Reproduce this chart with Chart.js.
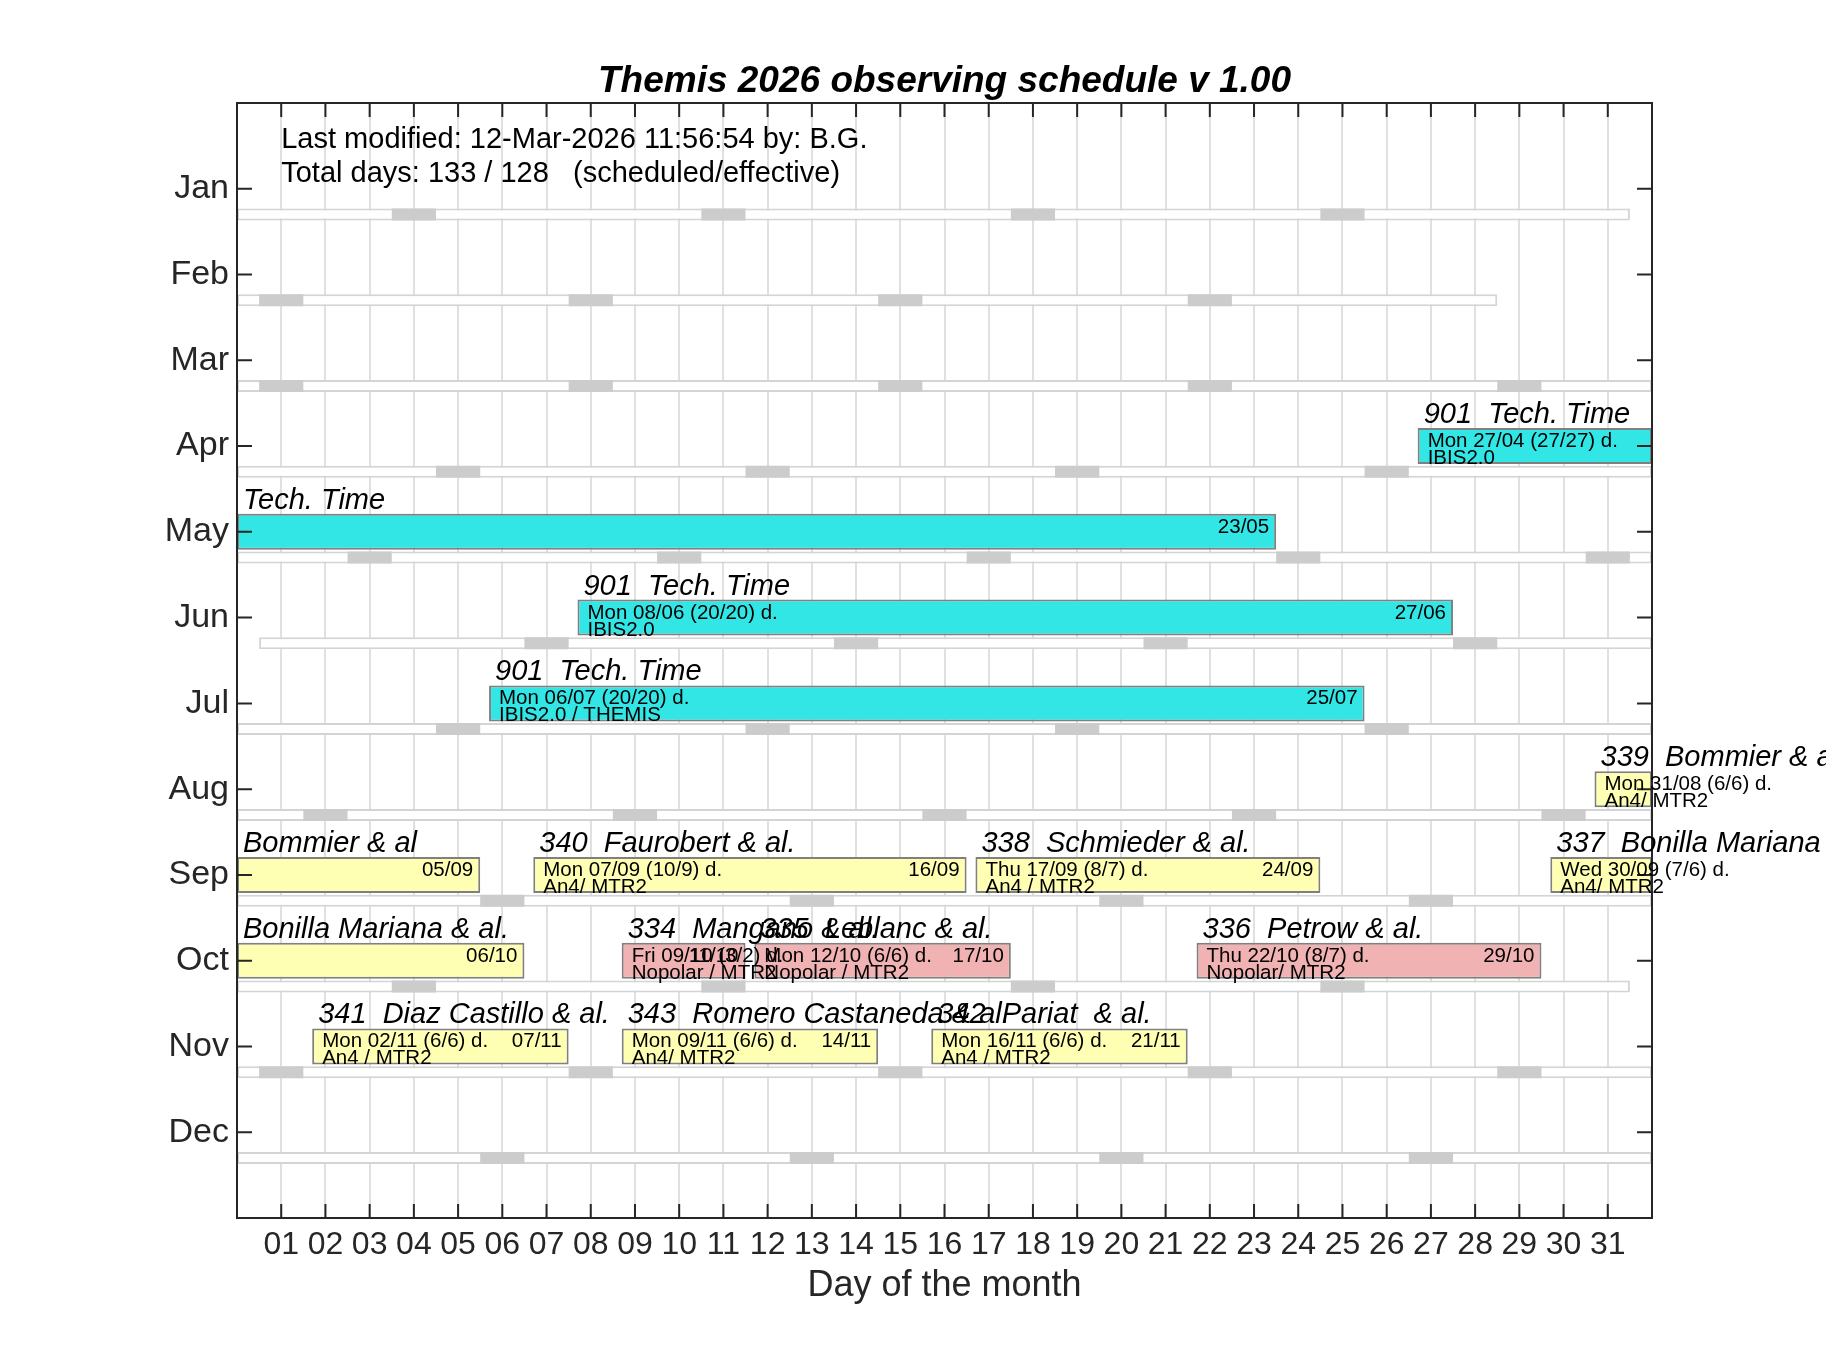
<!DOCTYPE html>
<html>
<head>
  <title>Themis 2026 observing schedule</title>
  <script src="https://cdn.jsdelivr.net/npm/chart.js"></script>
  <style>body { margin: 0; background: #fff; } canvas { display: block; }</style>
</head>
<body>
  <canvas id="plan" width="1826" height="1370"></canvas>
  <script>
    const monthLabels = ['Jan', 'Feb', 'Mar', 'Apr', 'May', 'Jun', 'Jul', 'Aug', 'Sep', 'Oct', 'Nov', 'Dec'];
    const dayLabels = ['01', '02', '03', '04', '05', '06', '07', '08', '09', '10', '11', '12', '13', '14', '15', '16',
      '17', '18', '19', '20', '21', '22', '23', '24', '25', '26', '27', '28', '29', '30', '31'];

    // calendar strip below each month row and its Sundays
    const stripFrom = [0, 0, 0, 0, 0, 0.5, 0, 0, 0, 0, 0, 0];
    const stripTo = [31.5, 28.5, 32, 32, 32, 32, 32, 32, 32, 31.5, 32, 32];
    const sundays = [
      [4, 11, 18, 25], [1, 8, 15, 22], [1, 8, 15, 22, 29], [5, 12, 19, 26],
      [3, 10, 17, 24, 31], [7, 14, 21, 28], [5, 12, 19, 26], [2, 9, 16, 23, 30],
      [6, 13, 20, 27], [4, 11, 18, 25], [1, 8, 15, 22, 29], [6, 13, 20, 27]
    ];

    // observing runs, one entry per month row (null = runs past the edge)
    const runMonth = [4, 5, 6, 7, 8, 9, 9, 9, 9, 10, 10, 10, 10, 11, 11, 11];
    const runFirst = [27, null, 8, 6, 31, null, 7, 17, 30, null, 9, 12, 22, 2, 9, 16];
    const runLast = [null, 23, 27, 25, null, 5, 16, 24, null, 6, 11, 17, 29, 7, 14, 21];
    const runKind = ['tech', 'tech', 'tech', 'tech', 'an4', 'an4', 'an4', 'an4', 'an4', 'an4',
      'nopolar', 'nopolar', 'nopolar', 'an4', 'an4', 'an4'];
    const runTitle = ['901  Tech. Time', 'Tech. Time', '901  Tech. Time', '901  Tech. Time',
      '339  Bommier & al', 'Bommier & al', '340  Faurobert & al.', '338  Schmieder & al.',
      '337  Bonilla Mariana & al.', 'Bonilla Mariana & al.', '334  Mangano & al.', '335  Leblanc & al.',
      '336  Petrow & al.', '341  Diaz Castillo & al.', '343  Romero Castaneda & al.', '342  Pariat  & al.'];
    const runDates = ['Mon 27/04 (27/27) d.', '', 'Mon 08/06 (20/20) d.', 'Mon 06/07 (20/20) d.',
      'Mon 31/08 (6/6) d.', '', 'Mon 07/09 (10/9) d.', 'Thu 17/09 (8/7) d.', 'Wed 30/09 (7/6) d.', '',
      'Fri 09/10 (3/2) d.', 'Mon 12/10 (6/6) d.', 'Thu 22/10 (8/7) d.', 'Mon 02/11 (6/6) d.',
      'Mon 09/11 (6/6) d.', 'Mon 16/11 (6/6) d.'];
    const runSetup = ['IBIS2.0', '', 'IBIS2.0', 'IBIS2.0 / THEMIS', 'An4/ MTR2', '', 'An4/ MTR2',
      'An4 / MTR2', 'An4/ MTR2', '', 'Nopolar / MTR2', 'Nopolar / MTR2', 'Nopolar/ MTR2',
      'An4 / MTR2', 'An4/ MTR2', 'An4 / MTR2'];
    const runEnd = ['', '23/05', '27/06', '25/07', '', '05/09', '16/09', '24/09', '', '06/10',
      '11/10', '17/10', '29/10', '07/11', '14/11', '21/11'];

    const noteLines = ['Last modified: 12-Mar-2026 11:56:54 by: B.G.',
      'Total days: 133 / 128   (scheduled/effective)'];

    const kindColor = { tech: 'rgb(51,230,230)', an4: 'rgb(255,255,179)', nopolar: 'rgb(240,178,178)' };
    const FONT = '"Liberation Sans", Arial, Helvetica, sans-serif';
    const DAY_MIN = 0, DAY_MAX = 32;
    const STRIP_SHIFT = 0.3;

    const runFrom = i => runFirst[i] == null ? DAY_MIN : runFirst[i] - 0.3;
    const runTo = i => runLast[i] == null ? DAY_MAX : runLast[i] + 0.5;

    const stripData = monthLabels.map((m, i) => ({ y: i + 1 + STRIP_SHIFT, x: [stripFrom[i], stripTo[i]] }));
    const sundayData = sundays.flatMap((days, i) => days.map(d => ({ y: i + 1 + STRIP_SHIFT, x: [d - 0.5, d + 0.5] })));
    const runData = runMonth.map((m, i) => ({ y: m, x: [runFrom(i), runTo(i)] }));

    const scheduleText = {
      id: 'scheduleText',
      afterDatasetsDraw(chart) {
        const { ctx, chartArea: a, scales: { x, y } } = chart;
        ctx.save();

        // box and inward ticks
        ctx.strokeStyle = '#262626';
        ctx.lineWidth = 2;
        ctx.strokeRect(a.left, a.top, a.right - a.left, a.bottom - a.top);
        ctx.beginPath();
        x.ticks.forEach(t => {
          const px = x.getPixelForValue(t.value);
          ctx.moveTo(px, a.bottom); ctx.lineTo(px, a.bottom - 14);
          ctx.moveTo(px, a.top); ctx.lineTo(px, a.top + 14);
        });
        y.ticks.forEach(t => {
          const py = y.getPixelForValue(t.value);
          ctx.moveTo(a.left, py); ctx.lineTo(a.left + 15, py);
          ctx.moveTo(a.right, py); ctx.lineTo(a.right - 15, py);
        });
        ctx.stroke();

        ctx.fillStyle = '#000';
        ctx.textBaseline = 'alphabetic';
        ctx.textAlign = 'left';
        ctx.font = '29px ' + FONT;
        ctx.fillText(noteLines[0], x.getPixelForValue(1), y.getPixelForValue(0.52));
        ctx.fillText(noteLines[1], x.getPixelForValue(1), y.getPixelForValue(0.92));

        runMonth.forEach((m, i) => {
          const left = x.getPixelForValue(runFrom(i));
          const right = x.getPixelForValue(runTo(i));
          const py = y.getPixelForValue(m);
          ctx.textAlign = 'left';
          ctx.font = 'italic 29px ' + FONT;
          ctx.fillText(runTitle[i], left + 6, py - 23);
          ctx.font = '20.5px ' + FONT;
          if (runDates[i]) ctx.fillText(runDates[i], left + 10, py + 1);
          if (runSetup[i]) ctx.fillText(runSetup[i], left + 10, py + 18);
          if (runEnd[i]) {
            ctx.textAlign = 'right';
            ctx.fillText(runEnd[i], right - 7, py + 1);
          }
        });
        ctx.restore();
      }
    };

    const common = { grouped: false, borderSkipped: false, inflateAmount: 0, clip: 0 };

    new Chart(document.getElementById('plan'), {
      type: 'bar',
      data: {
        datasets: [
          { ...common, data: runData, barThickness: 36, borderWidth: 2, borderColor: 'rgb(128,128,128)',
            backgroundColor: c => kindColor[runKind[c.dataIndex]] },
          { ...common, data: sundayData, barThickness: 12, borderWidth: 0, backgroundColor: '#cccccc' },
          { ...common, data: stripData, barThickness: 12, borderWidth: 2, borderColor: '#d4d4d4', backgroundColor: '#ffffff' }
        ]
      },
      options: {
        indexAxis: 'y',
        responsive: false,
        devicePixelRatio: 1,
        animation: false,
        layout: { padding: { left: 0, right: 174, top: 0, bottom: 0 } },
        plugins: {
          legend: { display: false },
          tooltip: { enabled: false },
          title: {
            display: true,
            fullSize: false,
            text: 'Themis 2026 observing schedule v 1.00',
            color: '#000',
            font: { family: FONT, size: 37, style: 'italic', weight: 'bold', lineHeight: 1 },
            padding: { top: 63, bottom: 3 }
          }
        },
        scales: {
          x: {
            type: 'linear',
            min: DAY_MIN,
            max: DAY_MAX,
            offset: false,
            afterBuildTicks: s => { s.ticks = dayLabels.map((d, i) => ({ value: i + 1 })); },
            afterFit: s => { s.height = 152; },
            ticks: {
              autoSkip: false, maxRotation: 0, padding: 8, color: '#262626',
              font: { family: FONT, size: 32 },
              callback: v => dayLabels[v - 1]
            },
            grid: { color: '#e0e0e0', lineWidth: 2, drawTicks: false, offset: false },
            border: { display: false },
            title: {
              display: true, text: 'Day of the month', color: '#262626',
              font: { family: FONT, size: 36 }, padding: { top: 0, bottom: 62 }
            }
          },
          y: {
            type: 'linear',
            min: 0,
            max: 13,
            reverse: true,
            offset: false,
            afterBuildTicks: s => { s.ticks = monthLabels.map((m, i) => ({ value: i + 1 })); },
            afterFit: s => { s.width = 237; },
            ticks: {
              autoSkip: false, padding: 8, color: '#262626',
              font: { family: FONT, size: 34 },
              callback: v => monthLabels[v - 1]
            },
            grid: { display: false, drawTicks: false, offset: false },
            border: { display: false }
          }
        }
      },
      plugins: [scheduleText]
    });
  </script>
</body>
</html>
